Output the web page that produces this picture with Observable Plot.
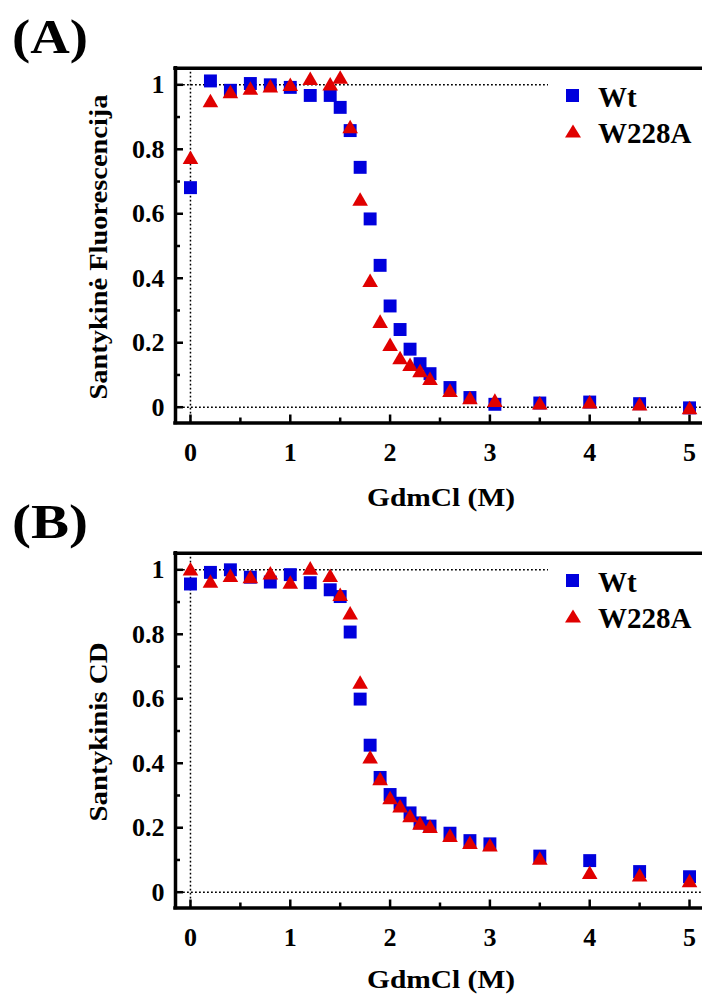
<!DOCTYPE html>
<html><head><meta charset="utf-8">
<script src="https://cdn.jsdelivr.net/npm/d3@7"></script>
<script src="https://cdn.jsdelivr.net/npm/@observablehq/plot@0.6"></script>
<style>
body{margin:0;background:#fff;}
#root{position:relative;width:702px;height:995px;overflow:hidden;font-family:"Liberation Serif","Times New Roman",Times,serif;background:#fff;}
.panel{position:absolute;left:0;width:702px;height:485px;}
.panel svg{overflow:visible;}
.panel svg.ov{position:absolute;left:0;top:0;pointer-events:none;z-index:2;}
</style></head><body><div id="root"></div>
<script>
// GdmCl concentrations (M)
const concA = [0,0.2,0.4,0.6,0.8,1.0,1.2,1.4,1.5,1.6,1.7,1.8,1.9,2.0,2.1,2.2,2.3,2.4,2.6,2.8,3.05,3.5,4.0,4.5,5.0];
const concB = [0,0.2,0.4,0.6,0.8,1.0,1.2,1.4,1.5,1.6,1.7,1.8,1.9,2.0,2.1,2.2,2.3,2.4,2.6,2.8,3.0,3.5,4.0,4.5,5.0];
// Panel A: relative fluorescence
const fluorWt    = [0.681,1.012,0.983,1.004,1.0,0.992,0.967,0.967,0.93,0.858,0.744,0.584,0.44,0.314,0.241,0.18,0.135,0.104,0.061,0.03,0.009,0.013,0.016,0.011,-0.002];
const fluorW228A = [0.768,0.944,0.972,0.983,0.99,0.995,1.013,0.996,1.017,0.864,0.639,0.387,0.26,0.188,0.147,0.126,0.107,0.083,0.046,0.023,0.015,0.007,0.01,0.004,-0.008];
// Panel B: relative CD
const cdWt    = [0.956,0.992,1.0,0.977,0.962,0.985,0.96,0.938,0.917,0.807,0.599,0.456,0.356,0.303,0.276,0.246,0.215,0.205,0.183,0.16,0.15,0.112,0.098,0.064,0.048];
const cdW228A = [0.996,0.958,0.976,0.972,0.984,0.955,0.999,0.976,0.917,0.86,0.645,0.413,0.346,0.287,0.261,0.231,0.208,0.198,0.17,0.148,0.14,0.099,0.055,0.047,0.029];
// ticks
const yLabels = [0,0.2,0.4,0.6,0.8,1];
const yMinor = [0.1,0.3,0.5,0.7,0.9];
const xLabels = [0,1,2,3,4,5];
const xMinor = [0.5,1.5,2.5,3.5,4.5];
const seriesNames = ["Wt","W228A"];
const blue = "#0000dd", red = "#e00000";
const xDom = [-0.15, 5.13], yDom = [-0.049, 1.0515];
const FONT = '"Liberation Serif","Times New Roman",Times,serif';

function makePanel(top, letter, yTitle, yTitleLen, xTitleY, xs, wt, mut) {
  const dWt = xs.map((x,i)=>({x, y: wt[i]}));
  const dMut = xs.map((x,i)=>({x, y: mut[i]}));
  const dot = {stroke:"black", strokeDasharray:"1.8,2.2", strokeWidth:1.5};
  const frm = {stroke:"black", strokeWidth:3.5, strokeLinecap:"square"};
  const tk = {strokeWidth:2.5, fill:"none", label:null};
  const chart = Plot.plot({
    width:702, height:485, marginLeft:175, marginRight:0, marginTop:67.7, marginBottom:62.5,
    x:{domain:xDom, label:null},
    y:{domain:yDom, label:null},
    style:{fontFamily:FONT, fontSize:"26px", fontWeight:"bold", background:"transparent", color:"black", overflow:"visible"},
    marks:[
      Plot.ruleY([1], {...dot}),
      Plot.ruleY([0], {...dot}),
      Plot.ruleX([0], {...dot}),
      Plot.axisY(yMinor, {...tk, tickSize:-5}),
      Plot.axisY(yLabels, {...tk, tickSize:-8}),
      Plot.axisY(yLabels, {tickSize:0, tickPadding:11, label:null, tickFormat: d => `${d}`}),
      Plot.axisX(xMinor, {...tk, tickSize:-5}),
      Plot.axisX(xLabels, {...tk, tickSize:-8}),
      Plot.axisX(xLabels, {tickSize:0, tickPadding:20, label:null, tickFormat: d => `${d}`}),
      Plot.dot(dWt, {x:"x", y:"y", symbol:"square", r:7.3, fill:blue}),
      Plot.dot(dMut, {x:"x", y:"y", symbol:"triangle", r:5.8, fill:red}),
      Plot.ruleX([xDom[0]], frm),
      Plot.ruleY([yDom[0]], frm),
      Plot.ruleY([yDom[1]], frm)
    ]
  });
  const div = document.createElement("div");
  div.className = "panel";
  div.style.top = top + "px";
  div.appendChild(chart);
  const ns = "http://www.w3.org/2000/svg";
  const ov = document.createElementNS(ns, "svg");
  ov.setAttribute("class","ov");
  ov.setAttribute("width", 702); ov.setAttribute("height", 510);
  ov.innerHTML = `
    <g font-family='${FONT}' font-weight="bold" fill="black">
      <text x="12" y="53" font-size="48" textLength="76" lengthAdjust="spacingAndGlyphs">(${letter})</text>
      <text transform="translate(107,247) rotate(-90)" text-anchor="middle" font-size="26" textLength="${yTitleLen}" lengthAdjust="spacingAndGlyphs">${yTitle}</text>
      <text x="441" y="${xTitleY}" text-anchor="middle" font-size="26" textLength="148" lengthAdjust="spacingAndGlyphs">GdmCl (M)</text>
      <rect x="548" y="76" width="154" height="72" fill="white"/>
      <rect x="566" y="89" width="13" height="13" fill="${blue}"/>
      <polygon points="573,124.5 565,137.5 581,137.5" fill="${red}"/>
      <text x="598" y="106.7" font-size="29">${seriesNames[0]}</text>
      <text x="598" y="143" font-size="29">${seriesNames[1]}</text>
    </g>`;
  div.appendChild(ov);
  document.getElementById("root").appendChild(div);
}
makePanel(0, "A", "Santykinė Fluorescencija", 305, 506, concA, fluorWt, fluorW228A);
makePanel(485, "B", "Santykinis CD", 179, 503, concB, cdWt, cdW228A);
</script></body></html>
